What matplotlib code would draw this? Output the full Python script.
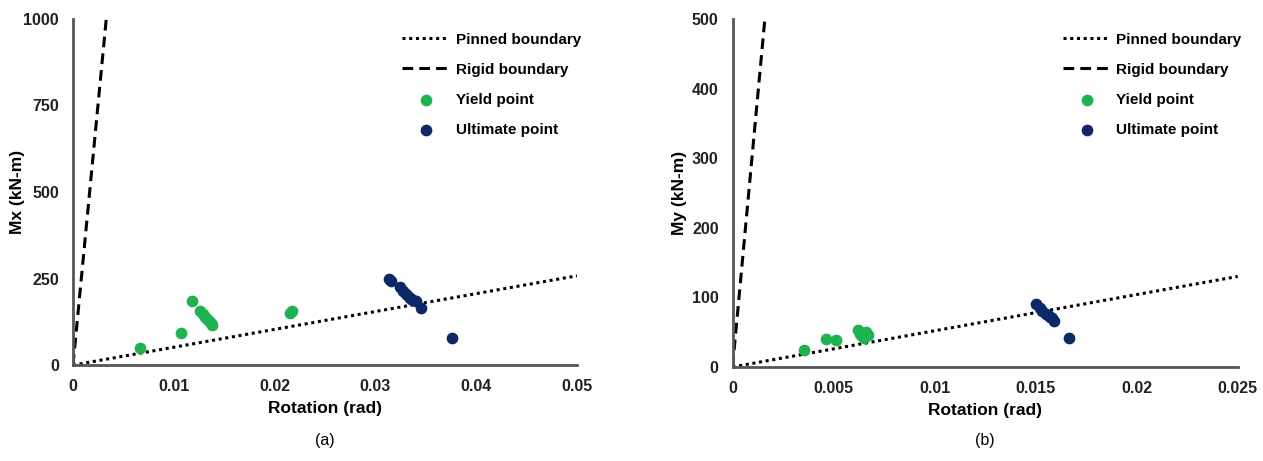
import numpy as np
import matplotlib.pyplot as plt

plt.rcParams['font.family'] = ['Liberation Sans', 'DejaVu Sans']

# ---------------- data (a) ----------------
pin_a_x = [0, 0.05]
pin_a_y = [0, 258]
rig_a_x = [0, 0.0033]
rig_a_y = [0, 1000]
yld_a_x = [0.00665, 0.0107, 0.0118, 0.0126, 0.0129, 0.0131, 0.0133, 0.0135, 0.0137, 0.0138, 0.0215, 0.0217]
yld_a_y = [48, 93, 185, 156, 148, 140, 133, 127, 121, 117, 150, 157]
ult_a_x = [0.0314, 0.0316, 0.0324, 0.0327, 0.0330, 0.0333, 0.0335, 0.0337, 0.0340, 0.0345, 0.0376]
ult_a_y = [248, 244, 225, 215, 205, 198, 192, 188, 184, 165, 79]

# ---------------- data (b) ----------------
pin_b_x = [0, 0.025]
pin_b_y = [0, 130]
rig_b_x = [0, 0.0016]
rig_b_y = [0, 500]
yld_b_x = [0.00356, 0.00464, 0.00513, 0.0062, 0.0063, 0.0064, 0.0065, 0.0066, 0.0067]
yld_b_y = [25, 40, 39, 53, 48, 44, 42, 50, 46]
ult_b_x = [0.0150, 0.0152, 0.0153, 0.0155, 0.0156, 0.0157, 0.0158, 0.0159, 0.01665]
ult_b_y = [90, 85, 80, 76, 74, 72, 70, 66, 42]

green = '#1db34f'
navy = '#0c2868'
axcol = '#555555'

fig = plt.figure(figsize=(12.63, 4.61), dpi=100)
ax1 = fig.add_axes([0.0578, 0.208, 0.399, 0.751])
ax2 = fig.add_axes([0.580, 0.204, 0.400, 0.755])

def panel(ax, px, py, rx, ry, yx, yy, ux, uy, xmax, ymax, xt, xtl, yt, ylab, ylab_x):
    ax.plot(px, py, color='black', linestyle=(0, (1, 1.2)), linewidth=2.2, label='Pinned boundary')
    ax.plot(rx, ry, color='black', linestyle=(0, (3.5, 2)), linewidth=2.2, label='Rigid boundary')
    ax.scatter(yx, yy, s=55, color=green, label='Yield point', zorder=3)
    ax.scatter(ux, uy, s=55, color=navy, label='Ultimate point', zorder=3)
    ax.set_xlim(0, xmax)
    ax.set_ylim(0, ymax)
    ax.set_xticks(xt)
    ax.set_xticklabels(xtl)
    ax.set_yticks(yt)
    for s in ['top', 'right']:
        ax.spines[s].set_visible(False)
    for s in ['left', 'bottom']:
        ax.spines[s].set_color(axcol)
        ax.spines[s].set_linewidth(2)
    ax.tick_params(length=0, labelsize=11.5, colors='#222222')
    ax.tick_params(axis='x', pad=10)
    ax.tick_params(axis='y', pad=10)
    for t in ax.get_xticklabels() + ax.get_yticklabels():
        t.set_fontweight('bold')
    ax.set_xlabel('Rotation (rad)', fontsize=12.5, fontweight='bold', labelpad=5)
    ax.set_ylabel(ylab, fontsize=12.5, fontweight='bold')
    ax.yaxis.set_label_coords(ylab_x, 0.5)
    ax.legend(loc='upper right', bbox_to_anchor=(1.035, 1.0), frameon=False,
              prop={'weight': 'bold', 'size': 11}, handlelength=3.1,
              labelspacing=1.05, handletextpad=0.4)

panel(ax1, pin_a_x, pin_a_y, rig_a_x, rig_a_y, yld_a_x, yld_a_y, ult_a_x, ult_a_y,
      0.05, 1000, [0, 0.01, 0.02, 0.03, 0.04, 0.05], ['0', '0.01', '0.02', '0.03', '0.04', '0.05'],
      [0, 250, 500, 750, 1000], 'Mx (kN-m)', -0.095)
panel(ax2, pin_b_x, pin_b_y, rig_b_x, rig_b_y, yld_b_x, yld_b_y, ult_b_x, ult_b_y,
      0.025, 500, [0, 0.005, 0.01, 0.015, 0.02, 0.025], ['0', '0.005', '0.01', '0.015', '0.02', '0.025'],
      [0, 100, 200, 300, 400, 500], 'My (kN-m)', -0.09)

fig.text(325 / 1263, 1 - 440 / 461, '(a)', ha='center', va='center', fontsize=11.5)
fig.text(985 / 1263, 1 - 440 / 461, '(b)', ha='center', va='center', fontsize=11.5)

fig.savefig('out.png', dpi=100)
